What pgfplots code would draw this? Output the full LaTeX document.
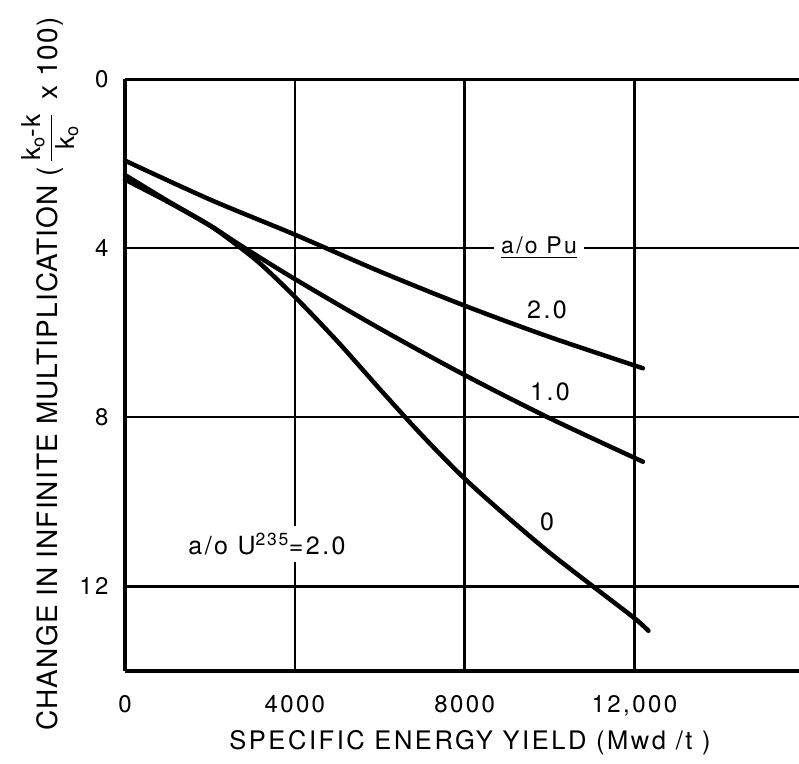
\documentclass[border=0pt]{standalone}
\usepackage{pgfplots}
\pgfplotsset{compat=1.18}
\usepackage{amsmath}
\usepackage{fontspec}
\setmainfont{TeX Gyre Heros}[LetterSpace=10]
\newfontfamily\plainfont{TeX Gyre Heros}[LetterSpace=4]
\begin{document}
\begin{tikzpicture}
\begin{axis}[
  at={(464.6bp,389bp)}, anchor=center,
  scale only axis, width=679.2bp, height=592bp,
  xmin=0, xmax=16000, ymin=0, ymax=14, y dir=reverse,
  axis line style={draw=none},
  scaled x ticks=false,
  xtick={0,4000,8000,12000}, xticklabels={0,4000,8000,{12,000}},
  ytick={0,4,8,12}, yticklabels={0,4,8,12},
  major tick length=0pt,
  grid=major, grid style={line width=2.4bp, black},
  tick label style={font=\fontsize{24bp}{28bp}\selectfont},
  xticklabel style={yshift=-21bp},
  yticklabel style={xshift=-13bp},
  clip=false,
]
\draw[line width=4.5bp] (axis cs:0,0) -- (axis cs:0,14);
\draw[line width=4bp] (axis cs:0,14) -- (axis cs:16000,14);
\draw[line width=3bp] (axis cs:0,0) -- (axis cs:16000,0);
\addplot[black, line width=4.5bp, smooth, line cap=round] coordinates {
(0,1.93) (2000,2.85) (4000,3.68) (6000,4.55) (8000,5.36) (10000,6.1) (12200,6.84)};
\addplot[black, line width=4.5bp, smooth, line cap=round] coordinates {
(0,2.27) (1000,2.88) (2000,3.46) (2700,3.92) (4000,4.73) (6000,5.9) (8000,7.0) (10000,8.02) (12200,9.05)};
\addplot[black, line width=4.5bp, smooth, line cap=round] coordinates {
(0,2.38) (1000,2.9) (2000,3.47) (2600,3.9) (3200,4.38) (4000,5.15) (5000,6.2) (6000,7.33) (7000,8.43) (8000,9.45) (9000,10.35) (10000,11.2) (11000,11.98) (12000,12.75) (12330,13.05)};
\node[fill=white, inner sep=7bp, font=\fontsize{23bp}{26bp}\selectfont] at (axis cs:9753,4.0) {\underline{a/o Pu}};
\node[font=\fontsize{25bp}{28bp}\selectfont] at (axis cs:9941,5.46) {2.0};
\node[font=\fontsize{25bp}{28bp}\selectfont] at (axis cs:10012,7.40) {1.0};
\node[font=\fontsize{25bp}{28bp}\selectfont] at (axis cs:9941,10.47) {0};
\node[fill=white, inner sep=7bp, font=\fontsize{25bp}{28bp}\selectfont] at (axis cs:3345,11.0) {a/o U\textsuperscript{235}=2.0};
\end{axis}
\node[font=\fontsize{25.5bp}{30bp}\selectfont] at (470bp,21bp) {SPECIFIC ENERGY YIELD (Mwd /t )};
\node[rotate=90, font=\plainfont\fontsize{28bp}{30bp}\selectfont] at (50bp,390bp) {CHANGE IN INFINITE MULTIPLICATION (\,$\dfrac{\text{\plainfont\fontsize{26bp}{26bp}\selectfont k\textsubscript{o}-k}}{\text{\plainfont\fontsize{26bp}{26bp}\selectfont k\textsubscript{o}}}$\, x 100)};
\pgfresetboundingbox
\useasboundingbox (0,0) rectangle (799bp,764bp);
\end{tikzpicture}
\end{document}
